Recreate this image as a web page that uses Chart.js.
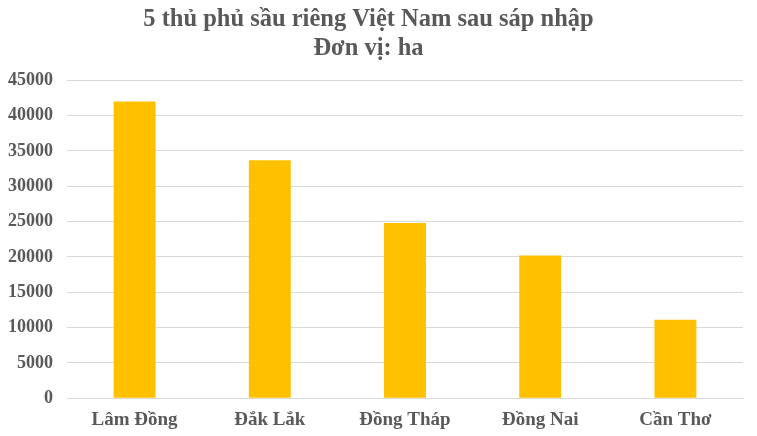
<!DOCTYPE html>
<html>
<head>
<meta charset="utf-8">
<script src="https://cdn.jsdelivr.net/npm/chart.js@4"></script>
<style>
  html, body { margin: 0; padding: 0; background: #fff; }
  #wrap { width: 757px; height: 436px; }
</style>
</head>
<body>
<div id="wrap"><canvas id="chart"></canvas></div>
<script>
const categories = ['Lâm Đồng', 'Đắk Lắk', 'Đồng Tháp', 'Đồng Nai', 'Cần Thơ']
const areaHa = [42000, 33700, 24800, 20200, 11100]
const titleLines = ['5 thủ phủ sầu riêng Việt Nam sau sáp nhập', 'Đơn vị: ha']

const textColor = '#595959'
const serif = "'Liberation Serif', 'Times New Roman', serif"

new Chart(document.getElementById('chart'), {
  type: 'bar',
  data: {
    labels: categories,
    datasets: [{
      label: 'Diện tích',
      data: areaHa,
      backgroundColor: '#FFC000',
      borderWidth: 0,
      categoryPercentage: 1,
      barPercentage: 0.31
    }]
  },
  options: {
    responsive: true,
    maintainAspectRatio: false,
    animation: false,
    layout: { padding: { left: -6, right: 14, top: 2, bottom: 3 } },
    plugins: {
      legend: { display: false },
      tooltip: { enabled: false },
      title: {
        display: true,
        text: titleLines,
        color: textColor,
        font: { family: serif, size: 24.5, weight: 'bold', lineHeight: 1.15 },
        padding: { top: 4, bottom: 18 }
      }
    },
    scales: {
      y: {
        min: 0,
        max: 45000,
        ticks: {
          stepSize: 5000,
          color: textColor,
          font: { family: serif, size: 18, weight: 'bold' },
          padding: 14,
          callback: (value) => String(value)
        },
        grid: { color: '#d9d9d9', drawTicks: false },
        border: { display: false }
      },
      x: {
        ticks: {
          color: textColor,
          font: { family: serif, size: 19, weight: 'bold' },
          padding: 2
        },
        grid: { display: false },
        border: { color: '#d9d9d9' }
      }
    }
  }
})
</script>
</body>
</html>
